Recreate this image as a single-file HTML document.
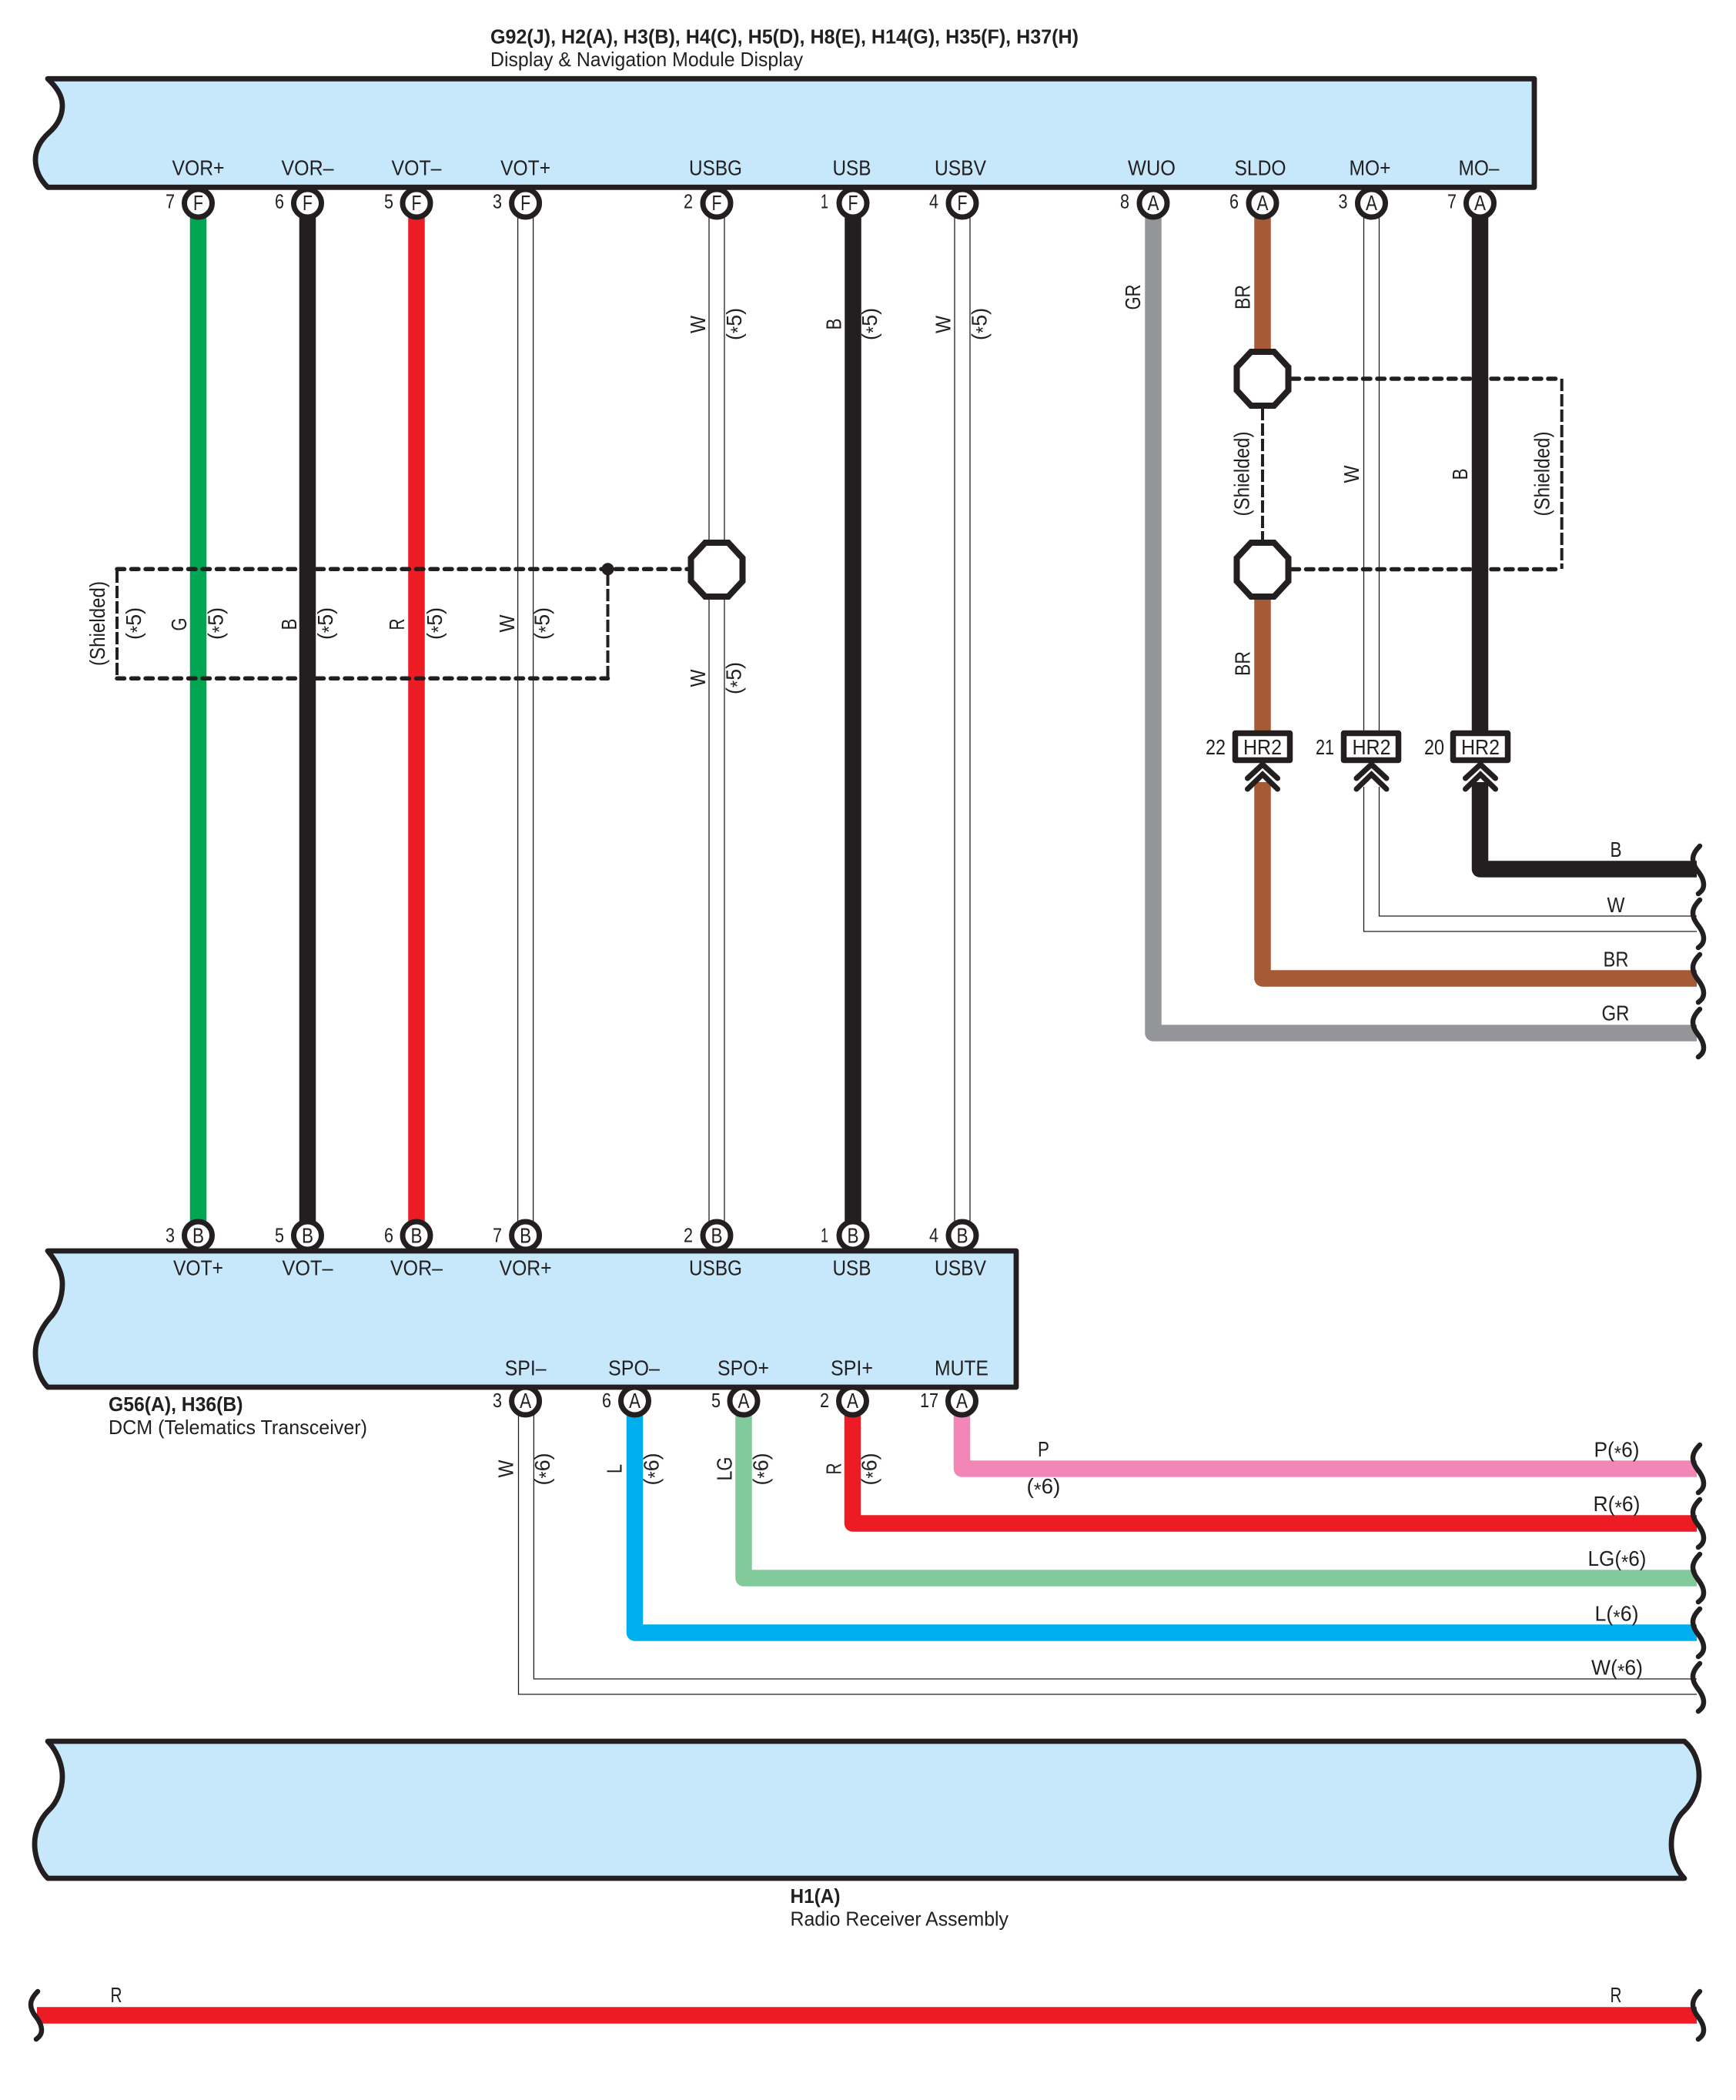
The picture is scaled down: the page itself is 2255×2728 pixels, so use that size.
<!DOCTYPE html>
<html><head><meta charset="utf-8"><title>Wiring diagram</title>
<style>
html,body{margin:0;padding:0;background:#fff}
svg{display:block}
text{font-family:"Liberation Sans",sans-serif;font-size:27.5px;fill:#231f20}
.m{text-anchor:middle}
.w{fill:none;stroke-width:21.5;stroke-linejoin:round}
.t{fill:none;stroke:#231f20;stroke-width:1.3}
.c{fill:#fff;stroke:#231f20;stroke-width:7}
.box{fill:#c7e8fa;stroke:#231f20;stroke-width:6.8;stroke-linejoin:round}
.oct{fill:#fff;stroke:#231f20;stroke-width:8}
.dh{fill:none;stroke:#231f20;stroke-width:5.5;stroke-dasharray:9.5 9;stroke-linecap:round}
.dv{fill:none;stroke:#231f20;stroke-width:4;stroke-dasharray:16 4}
.wv{fill:none;stroke:#231f20;stroke-width:6.5;stroke-linecap:round}
.hr{fill:#fff;stroke:#231f20;stroke-width:7.5;stroke-linejoin:round}
.ch{fill:none;stroke:#231f20;stroke-width:7;stroke-linecap:round;stroke-linejoin:miter}
.a{font-size:25px}
.nums text{font-size:26px}
.rot text{font-size:28px}
</style></head><body>
<svg xmlns="http://www.w3.org/2000/svg" width="2255" height="2728" viewBox="0 0 2255 2728">
<defs>
<path id="wave" class="wv" d="M4,-31 C-1,-26 -5,-20 -5,-14 C-5,-8 -2,-3 1,1 C5,6 9,12 9,19 C9,25 6,28 2,31"/>
<g id="chev"><path class="ch" d="M-19.5,19 L0,1 L19.5,19"/><path class="ch" d="M-19.5,33 L0,14 L19.5,33"/></g>
<polygon id="oct" class="oct" points="-15,-35 15,-35 33.5,-15 33.5,15 15,35 -15,35 -33.5,15 -33.5,-15"/>
</defs>
<rect width="2255" height="2728" fill="#fff"/>

<!-- straight wires top to DCM -->
<path class="w" stroke="#00a651" d="M257.5 264V1605"/>
<path class="w" stroke="#231f20" d="M399.5 264V1605"/>
<path class="w" stroke="#ed1c24" d="M541 264V1605"/>
<path class="t" d="M672.6 264V1605M692.6 264V1605"/>
<path class="t" d="M921 264V1605M941 264V1605"/>
<path class="w" stroke="#231f20" d="M1108 264V1605"/>
<path class="t" d="M1240 264V1605M1260 264V1605"/>

<!-- right group -->
<path class="w" stroke="#939598" d="M1498 264V1342H2204"/>
<path class="w" stroke="#a65a35" d="M1640 264V460"/>
<path class="w" stroke="#a65a35" d="M1640 1016V1271H2204"/>
<path class="t" d="M1771.5 264V950M1791.5 264V950"/>
<path class="t" d="M1771.5 1022V1210H2204M1791.5 1022V1190H2204"/>
<path class="w" stroke="#231f20" d="M1922.5 264V950"/>
<path class="w" stroke="#231f20" d="M1922.5 1016V1129H2204"/>

<!-- lower group -->
<path class="w" stroke="#f287b7" d="M1249.5 1820V1908H2204"/>
<path class="w" stroke="#ed1c24" d="M1107.5 1820V1979H2204"/>
<path class="w" stroke="#82ca9c" d="M966 1820V2050H2204"/>
<path class="w" stroke="#00aeef" d="M824.5 1820V2121H2204"/>
<path class="t" d="M693.4 1820V2181H2204M673.5 1820V2201H2204"/>

<!-- bottom red -->
<path class="w" stroke="#ed1c24" d="M48 2618H2204"/>

<!-- shields -->
<path class="dh" d="M152 739.3H893"/>
<path class="dh" d="M152 881.3H789.5"/>
<path class="dv" d="M152 741V880M789.5 745V880"/>
<circle cx="789.5" cy="739.3" r="8" fill="#231f20"/>
<path class="dh" d="M1678 492H2028"/>
<path class="dh" d="M1678 739.5H2028"/>
<path class="dv" d="M2028.7 492V739M1640 530V702"/>
<use href="#oct" x="931" y="740"/>
<use href="#oct" x="1640" y="492"/>
<use href="#oct" x="1640" y="740"/>
<path class="w" stroke="#a65a35" d="M1640 779V950"/>

<!-- HR2 connectors -->
<rect class="hr" x="1604.5" y="952.5" width="71" height="35"/>
<rect class="hr" x="1745.5" y="952.5" width="71" height="35"/>
<rect class="hr" x="1887.5" y="952.5" width="71" height="35"/>
<use href="#chev" x="1640" y="992"/>
<use href="#chev" x="1781.5" y="992"/>
<use href="#chev" x="1923" y="992"/>
<text class="m" x="1640" y="980" textLength="50" lengthAdjust="spacingAndGlyphs">HR2</text>
<text class="m" x="1781.5" y="980" textLength="50" lengthAdjust="spacingAndGlyphs">HR2</text>
<text class="m" x="1923" y="980" textLength="50" lengthAdjust="spacingAndGlyphs">HR2</text>
<text class="m" x="1579" y="980" textLength="26" lengthAdjust="spacingAndGlyphs">22</text>
<text class="m" x="1721" y="980" textLength="24" lengthAdjust="spacingAndGlyphs">21</text>
<text class="m" x="1863" y="980" textLength="26" lengthAdjust="spacingAndGlyphs">20</text>

<!-- pin circles -->
<g class="pins">
<circle class="c" cx="257.5" cy="264" r="18"/><circle class="c" cx="399.5" cy="264" r="18"/><circle class="c" cx="541" cy="264" r="18"/><circle class="c" cx="682.6" cy="264" r="18"/><circle class="c" cx="931" cy="264" r="18"/><circle class="c" cx="1108" cy="264" r="18"/><circle class="c" cx="1250" cy="264" r="18"/><circle class="c" cx="1498" cy="264" r="18"/><circle class="c" cx="1640" cy="264" r="18"/><circle class="c" cx="1781.5" cy="264" r="18"/><circle class="c" cx="1922.5" cy="264" r="18"/>
<circle class="c" cx="257.5" cy="1605" r="18"/><circle class="c" cx="399.5" cy="1605" r="18"/><circle class="c" cx="541" cy="1605" r="18"/><circle class="c" cx="682.6" cy="1605" r="18"/><circle class="c" cx="931" cy="1605" r="18"/><circle class="c" cx="1108" cy="1605" r="18"/><circle class="c" cx="1250" cy="1605" r="18"/>
<circle class="c" cx="682.6" cy="1820" r="18"/><circle class="c" cx="824.5" cy="1820" r="18"/><circle class="c" cx="966" cy="1820" r="18"/><circle class="c" cx="1107.5" cy="1820" r="18"/><circle class="c" cx="1249.5" cy="1820" r="18"/>
</g>

<!-- boxes -->
<path class="box" d="M62 102.3H1993V243.3H62C52 233 46 222 46 207C46 192 54 181 64 172C74 163 81 152 81 137C81 123 72 112 62 102.3Z"/>
<path class="box" d="M62 1625H1320V1802H62C52 1792 46 1775 46 1757C46 1740 54 1725 64 1713C74 1703 81 1687 81 1668C81 1652 72 1637 62 1625Z"/>
<path class="box" d="M62 2262H2188C2200 2272 2207 2288 2207 2307C2207 2325 2198 2342 2188 2352C2177 2362 2171 2378 2171 2396C2171 2413 2178 2430 2188 2440H62C52 2430 45 2413 45 2395C45 2378 53 2362 63 2352C74 2342 81 2325 81 2308C81 2290 72 2272 62 2262Z"/>

<!-- wave breaks -->
<use href="#wave" x="2204" y="1130"/><use href="#wave" x="2204" y="1200"/><use href="#wave" x="2204" y="1271"/><use href="#wave" x="2204" y="1342"/>
<use href="#wave" x="2204" y="1908"/><use href="#wave" x="2204" y="1979"/><use href="#wave" x="2204" y="2050"/><use href="#wave" x="2204" y="2121"/><use href="#wave" x="2204" y="2192"/>
<use href="#wave" x="45" y="2618"/><use href="#wave" x="2204" y="2618"/>

<!-- titles -->
<text x="637" y="56.7" font-weight="bold" style="font-size:26px" textLength="764" lengthAdjust="spacingAndGlyphs">G92(J), H2(A), H3(B), H4(C), H5(D), H8(E), H14(G), H35(F), H37(H)</text>
<text x="637" y="86" style="font-size:26px" textLength="406" lengthAdjust="spacingAndGlyphs">Display &amp; Navigation Module Display</text>
<text x="141" y="1833" font-weight="bold" style="font-size:26px" textLength="174.5" lengthAdjust="spacingAndGlyphs">G56(A), H36(B)</text>
<text x="141" y="1863" style="font-size:26px" textLength="336" lengthAdjust="spacingAndGlyphs">DCM (Telematics Transceiver)</text>
<text x="1026.5" y="2472" font-weight="bold" style="font-size:26px" textLength="65" lengthAdjust="spacingAndGlyphs">H1(A)</text>
<text x="1026.5" y="2501.7" style="font-size:26px" textLength="283.5" lengthAdjust="spacingAndGlyphs">Radio Receiver Assembly</text>

<!-- top pin names -->
<text class="m" x="257.5" y="227.5" textLength="68" lengthAdjust="spacingAndGlyphs">VOR+</text>
<text class="m" x="399.5" y="227.5" textLength="68" lengthAdjust="spacingAndGlyphs">VOR–</text>
<text class="m" x="541" y="227.5" textLength="65" lengthAdjust="spacingAndGlyphs">VOT–</text>
<text class="m" x="682.6" y="227.5" textLength="65" lengthAdjust="spacingAndGlyphs">VOT+</text>
<text class="m" x="929.5" y="227.5" textLength="69" lengthAdjust="spacingAndGlyphs">USBG</text>
<text class="m" x="1106.5" y="227.5" textLength="50" lengthAdjust="spacingAndGlyphs">USB</text>
<text class="m" x="1247.5" y="227.5" textLength="67" lengthAdjust="spacingAndGlyphs">USBV</text>
<text class="m" x="1496" y="227.5" textLength="62" lengthAdjust="spacingAndGlyphs">WUO</text>
<text class="m" x="1637" y="227.5" textLength="67" lengthAdjust="spacingAndGlyphs">SLDO</text>
<text class="m" x="1779.5" y="227.5" textLength="54" lengthAdjust="spacingAndGlyphs">MO+</text>
<text class="m" x="1921" y="227.5" textLength="53" lengthAdjust="spacingAndGlyphs">MO–</text>

<!-- DCM upper names -->
<text class="m" x="257.5" y="1656.7" textLength="65" lengthAdjust="spacingAndGlyphs">VOT+</text>
<text class="m" x="399.5" y="1656.7" textLength="66" lengthAdjust="spacingAndGlyphs">VOT–</text>
<text class="m" x="541" y="1656.7" textLength="68" lengthAdjust="spacingAndGlyphs">VOR–</text>
<text class="m" x="682.6" y="1656.7" textLength="68" lengthAdjust="spacingAndGlyphs">VOR+</text>
<text class="m" x="929.5" y="1656.7" textLength="69" lengthAdjust="spacingAndGlyphs">USBG</text>
<text class="m" x="1106.5" y="1656.7" textLength="50" lengthAdjust="spacingAndGlyphs">USB</text>
<text class="m" x="1247.5" y="1656.7" textLength="67" lengthAdjust="spacingAndGlyphs">USBV</text>

<!-- DCM lower names -->
<text class="m" x="682.6" y="1786.7" textLength="54" lengthAdjust="spacingAndGlyphs">SPI–</text>
<text class="m" x="823.5" y="1786.7" textLength="67" lengthAdjust="spacingAndGlyphs">SPO–</text>
<text class="m" x="965.5" y="1786.7" textLength="67" lengthAdjust="spacingAndGlyphs">SPO+</text>
<text class="m" x="1106.5" y="1786.7" textLength="55" lengthAdjust="spacingAndGlyphs">SPI+</text>
<text class="m" x="1249" y="1786.7" textLength="70" lengthAdjust="spacingAndGlyphs">MUTE</text>

<!-- pin letters -->
<g class="letters">
<text class="m" x="257.5" y="273" textLength="13" lengthAdjust="spacingAndGlyphs">F</text><text class="m" x="399.5" y="273" textLength="13" lengthAdjust="spacingAndGlyphs">F</text><text class="m" x="541" y="273" textLength="13" lengthAdjust="spacingAndGlyphs">F</text><text class="m" x="682.6" y="273" textLength="13" lengthAdjust="spacingAndGlyphs">F</text><text class="m" x="931" y="273" textLength="13" lengthAdjust="spacingAndGlyphs">F</text><text class="m" x="1108" y="273" textLength="13" lengthAdjust="spacingAndGlyphs">F</text><text class="m" x="1250" y="273" textLength="13" lengthAdjust="spacingAndGlyphs">F</text>
<text class="m" x="1498" y="273" textLength="15" lengthAdjust="spacingAndGlyphs">A</text><text class="m" x="1640" y="273" textLength="15" lengthAdjust="spacingAndGlyphs">A</text><text class="m" x="1781.5" y="273" textLength="15" lengthAdjust="spacingAndGlyphs">A</text><text class="m" x="1922.5" y="273" textLength="15" lengthAdjust="spacingAndGlyphs">A</text>
<text class="m" x="257.5" y="1614.5" textLength="15" lengthAdjust="spacingAndGlyphs">B</text><text class="m" x="399.5" y="1614.5" textLength="15" lengthAdjust="spacingAndGlyphs">B</text><text class="m" x="541" y="1614.5" textLength="15" lengthAdjust="spacingAndGlyphs">B</text><text class="m" x="682.6" y="1614.5" textLength="15" lengthAdjust="spacingAndGlyphs">B</text><text class="m" x="931" y="1614.5" textLength="15" lengthAdjust="spacingAndGlyphs">B</text><text class="m" x="1108" y="1614.5" textLength="15" lengthAdjust="spacingAndGlyphs">B</text><text class="m" x="1250" y="1614.5" textLength="15" lengthAdjust="spacingAndGlyphs">B</text>
<text class="m" x="682.6" y="1829" textLength="15" lengthAdjust="spacingAndGlyphs">A</text><text class="m" x="824.5" y="1829" textLength="15" lengthAdjust="spacingAndGlyphs">A</text><text class="m" x="966" y="1829" textLength="15" lengthAdjust="spacingAndGlyphs">A</text><text class="m" x="1107.5" y="1829" textLength="15" lengthAdjust="spacingAndGlyphs">A</text><text class="m" x="1249.5" y="1829" textLength="15" lengthAdjust="spacingAndGlyphs">A</text>
</g>

<!-- pin numbers -->
<g class="nums">
<text class="m" x="221" y="270.5" textLength="12" lengthAdjust="spacingAndGlyphs">7</text><text class="m" x="363" y="270.5" textLength="12" lengthAdjust="spacingAndGlyphs">6</text><text class="m" x="505" y="270.5" textLength="12" lengthAdjust="spacingAndGlyphs">5</text><text class="m" x="646" y="270.5" textLength="12" lengthAdjust="spacingAndGlyphs">3</text><text class="m" x="894" y="270.5" textLength="12" lengthAdjust="spacingAndGlyphs">2</text><text class="m" x="1071" y="270.5" textLength="10" lengthAdjust="spacingAndGlyphs">1</text><text class="m" x="1213" y="270.5" textLength="12" lengthAdjust="spacingAndGlyphs">4</text>
<text class="m" x="1461" y="270.5" textLength="12" lengthAdjust="spacingAndGlyphs">8</text><text class="m" x="1603" y="270.5" textLength="12" lengthAdjust="spacingAndGlyphs">6</text><text class="m" x="1744.5" y="270.5" textLength="12" lengthAdjust="spacingAndGlyphs">3</text><text class="m" x="1886" y="270.5" textLength="12" lengthAdjust="spacingAndGlyphs">7</text>
<text class="m" x="221" y="1613.5" textLength="12" lengthAdjust="spacingAndGlyphs">3</text><text class="m" x="363" y="1613.5" textLength="12" lengthAdjust="spacingAndGlyphs">5</text><text class="m" x="505" y="1613.5" textLength="12" lengthAdjust="spacingAndGlyphs">6</text><text class="m" x="646" y="1613.5" textLength="12" lengthAdjust="spacingAndGlyphs">7</text><text class="m" x="894" y="1613.5" textLength="12" lengthAdjust="spacingAndGlyphs">2</text><text class="m" x="1071" y="1613.5" textLength="10" lengthAdjust="spacingAndGlyphs">1</text><text class="m" x="1213" y="1613.5" textLength="12" lengthAdjust="spacingAndGlyphs">4</text>
<text class="m" x="646" y="1828" textLength="12" lengthAdjust="spacingAndGlyphs">3</text><text class="m" x="788" y="1828" textLength="12" lengthAdjust="spacingAndGlyphs">6</text><text class="m" x="930" y="1828" textLength="12" lengthAdjust="spacingAndGlyphs">5</text><text class="m" x="1071" y="1828" textLength="12" lengthAdjust="spacingAndGlyphs">2</text><text class="m" x="1207" y="1828" textLength="24" lengthAdjust="spacingAndGlyphs">17</text>
</g>

<!-- rotated labels -->
<g class="rot">
<text class="m" transform="translate(136,810) rotate(-90)" textLength="110" lengthAdjust="spacingAndGlyphs">(Shielded)</text>
<text class="m" transform="translate(183,810) rotate(-90)" textLength="42" lengthAdjust="spacingAndGlyphs">(<tspan class="a" dy="4">*</tspan><tspan dy="-4">5</tspan>)</text>
<text class="m" transform="translate(242,811) rotate(-90)" textLength="17" lengthAdjust="spacingAndGlyphs">G</text>
<text class="m" transform="translate(289.5,810) rotate(-90)" textLength="42" lengthAdjust="spacingAndGlyphs">(<tspan class="a" dy="4">*</tspan><tspan dy="-4">5</tspan>)</text>
<text class="m" transform="translate(385,811) rotate(-90)" textLength="15" lengthAdjust="spacingAndGlyphs">B</text>
<text class="m" transform="translate(432,810) rotate(-90)" textLength="42" lengthAdjust="spacingAndGlyphs">(<tspan class="a" dy="4">*</tspan><tspan dy="-4">5</tspan>)</text>
<text class="m" transform="translate(525,811) rotate(-90)" textLength="15" lengthAdjust="spacingAndGlyphs">R</text>
<text class="m" transform="translate(574,810) rotate(-90)" textLength="42" lengthAdjust="spacingAndGlyphs">(<tspan class="a" dy="4">*</tspan><tspan dy="-4">5</tspan>)</text>
<text class="m" transform="translate(668,810) rotate(-90)" textLength="23" lengthAdjust="spacingAndGlyphs">W</text>
<text class="m" transform="translate(713.5,810) rotate(-90)" textLength="42" lengthAdjust="spacingAndGlyphs">(<tspan class="a" dy="4">*</tspan><tspan dy="-4">5</tspan>)</text>
<text class="m" transform="translate(916,881) rotate(-90)" textLength="23" lengthAdjust="spacingAndGlyphs">W</text>
<text class="m" transform="translate(962.5,881) rotate(-90)" textLength="42" lengthAdjust="spacingAndGlyphs">(<tspan class="a" dy="4">*</tspan><tspan dy="-4">5</tspan>)</text>
<text class="m" transform="translate(916,421.5) rotate(-90)" textLength="23" lengthAdjust="spacingAndGlyphs">W</text>
<text class="m" transform="translate(963,421) rotate(-90)" textLength="42" lengthAdjust="spacingAndGlyphs">(<tspan class="a" dy="4">*</tspan><tspan dy="-4">5</tspan>)</text>
<text class="m" transform="translate(1092.5,421) rotate(-90)" textLength="15" lengthAdjust="spacingAndGlyphs">B</text>
<text class="m" transform="translate(1139,421) rotate(-90)" textLength="42" lengthAdjust="spacingAndGlyphs">(<tspan class="a" dy="4">*</tspan><tspan dy="-4">5</tspan>)</text>
<text class="m" transform="translate(1234.5,421.5) rotate(-90)" textLength="23" lengthAdjust="spacingAndGlyphs">W</text>
<text class="m" transform="translate(1281.5,421) rotate(-90)" textLength="42" lengthAdjust="spacingAndGlyphs">(<tspan class="a" dy="4">*</tspan><tspan dy="-4">5</tspan>)</text>
<text class="m" transform="translate(1481,386) rotate(-90)" textLength="33" lengthAdjust="spacingAndGlyphs">GR</text>
<text class="m" transform="translate(1623.5,386) rotate(-90)" textLength="32" lengthAdjust="spacingAndGlyphs">BR</text>
<text class="m" transform="translate(1622.5,615.5) rotate(-90)" textLength="110" lengthAdjust="spacingAndGlyphs">(Shielded)</text>
<text class="m" transform="translate(1765,616) rotate(-90)" textLength="23" lengthAdjust="spacingAndGlyphs">W</text>
<text class="m" transform="translate(1906,616) rotate(-90)" textLength="15" lengthAdjust="spacingAndGlyphs">B</text>
<text class="m" transform="translate(2012.5,615.5) rotate(-90)" textLength="110" lengthAdjust="spacingAndGlyphs">(Shielded)</text>
<text class="m" transform="translate(1623.5,862) rotate(-90)" textLength="32" lengthAdjust="spacingAndGlyphs">BR</text>
<text class="m" transform="translate(666.5,1908) rotate(-90)" textLength="23" lengthAdjust="spacingAndGlyphs">W</text>
<text class="m" transform="translate(714,1908.5) rotate(-90)" textLength="42" lengthAdjust="spacingAndGlyphs">(<tspan class="a" dy="4">*</tspan><tspan dy="-4">6</tspan>)</text>
<text class="m" transform="translate(807.5,1908) rotate(-90)" textLength="12" lengthAdjust="spacingAndGlyphs">L</text>
<text class="m" transform="translate(855.5,1908.5) rotate(-90)" textLength="42" lengthAdjust="spacingAndGlyphs">(<tspan class="a" dy="4">*</tspan><tspan dy="-4">6</tspan>)</text>
<text class="m" transform="translate(950.5,1908) rotate(-90)" textLength="31" lengthAdjust="spacingAndGlyphs">LG</text>
<text class="m" transform="translate(997.5,1908.5) rotate(-90)" textLength="42" lengthAdjust="spacingAndGlyphs">(<tspan class="a" dy="4">*</tspan><tspan dy="-4">6</tspan>)</text>
<text class="m" transform="translate(1092.5,1908) rotate(-90)" textLength="15" lengthAdjust="spacingAndGlyphs">R</text>
<text class="m" transform="translate(1138.5,1908.5) rotate(-90)" textLength="42" lengthAdjust="spacingAndGlyphs">(<tspan class="a" dy="4">*</tspan><tspan dy="-4">6</tspan>)</text>
</g>

<!-- horizontal wire labels -->
<text class="m" x="2099" y="1113" textLength="15" lengthAdjust="spacingAndGlyphs">B</text>
<text class="m" x="2099" y="1185" textLength="23" lengthAdjust="spacingAndGlyphs">W</text>
<text class="m" x="2099" y="1255.7" textLength="33" lengthAdjust="spacingAndGlyphs">BR</text>
<text class="m" x="2098.5" y="1325.7" textLength="36" lengthAdjust="spacingAndGlyphs">GR</text>
<text class="m" x="1355.5" y="1892" textLength="15" lengthAdjust="spacingAndGlyphs">P</text>
<text class="m" x="1355.5" y="1940" textLength="44" lengthAdjust="spacingAndGlyphs">(<tspan class="a" dy="4">*</tspan><tspan dy="-4">6</tspan>)</text>
<text class="m" x="2100" y="1892.7" textLength="59" lengthAdjust="spacingAndGlyphs">P(<tspan class="a" dy="4">*</tspan><tspan dy="-4">6</tspan>)</text>
<text class="m" x="2100" y="1963" textLength="61" lengthAdjust="spacingAndGlyphs">R(<tspan class="a" dy="4">*</tspan><tspan dy="-4">6</tspan>)</text>
<text class="m" x="2100.5" y="2034" textLength="76" lengthAdjust="spacingAndGlyphs">LG(<tspan class="a" dy="4">*</tspan><tspan dy="-4">6</tspan>)</text>
<text class="m" x="2100" y="2105.7" textLength="57" lengthAdjust="spacingAndGlyphs">L(<tspan class="a" dy="4">*</tspan><tspan dy="-4">6</tspan>)</text>
<text class="m" x="2100.5" y="2175.7" textLength="67" lengthAdjust="spacingAndGlyphs">W(<tspan class="a" dy="4">*</tspan><tspan dy="-4">6</tspan>)</text>
<text class="m" x="151" y="2601" textLength="15" lengthAdjust="spacingAndGlyphs">R</text>
<text class="m" x="2099" y="2601" textLength="15" lengthAdjust="spacingAndGlyphs">R</text>
</svg>
</body></html>
